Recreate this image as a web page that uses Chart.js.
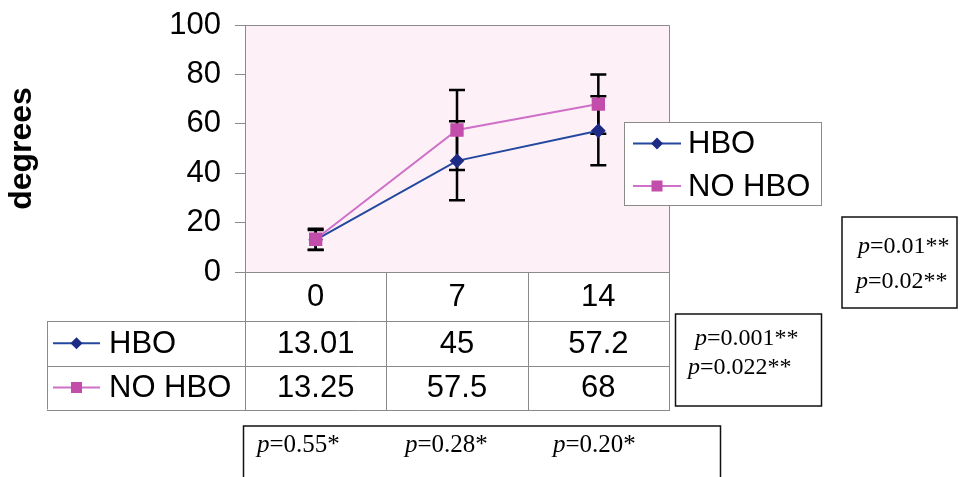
<!DOCTYPE html>
<html><head><meta charset="utf-8">
<script src="https://cdn.jsdelivr.net/npm/chart.js@4"></script>
<style>html,body{margin:0;padding:0;background:#fff}canvas{display:block}</style>
</head><body>
<canvas id="c" width="960" height="477"></canvas>
<script>
const categories = ['0', '7', '14'];
const hboValues = [13.01, 45, 57.2];
const noHboValues = [13.25, 57.5, 68];
const hboErrors = [4, 16, 14];
const noHboErrors = [4.3, 16.2, 12];
const seriesNames = ['HBO', 'NO HBO'];
const yMin = 0, yMax = 100, yStep = 20;
const dayPValues = ['0.55*', '0.28*', '0.20*'];
const rowPValues = ['0.001**', '0.022**'];
const outerPValues = ['0.01**', '0.02**'];

const SANS = '"Liberation Sans", Arial, sans-serif';
const SERIF = '"Liberation Serif", "Times New Roman", serif';
const HBO_LINE = '#2447A0', HBO_MARK = '#1D2B86';
const NO_LINE = '#CF70C9', NO_MARK = '#C24DAA';
const GRID = '#8a8a8a';
const FS = 31;

function drawMarker(ctx, style, x, y, color) {
  ctx.save();
  ctx.fillStyle = color;
  ctx.beginPath();
  if (style === 'diamond') {
    const r = 6;
    ctx.moveTo(x, y - r); ctx.lineTo(x + r, y); ctx.lineTo(x, y + r); ctx.lineTo(x - r, y);
  } else {
    const h = 5.5;
    ctx.rect(x - h, y - h, 2 * h, 2 * h);
  }
  ctx.closePath();
  ctx.fill();
  ctx.restore();
}
function legendEntry(ctx, x1, x2, y, lineColor, markStyle, markColor, label, textX) {
  ctx.save();
  ctx.strokeStyle = lineColor; ctx.lineWidth = 2;
  ctx.beginPath(); ctx.moveTo(x1, y); ctx.lineTo(x2, y); ctx.stroke();
  drawMarker(ctx, markStyle, (x1 + x2) / 2, y, markColor);
  ctx.fillStyle = '#000'; ctx.font = FS + 'px ' + SANS;
  ctx.textAlign = 'left'; ctx.textBaseline = 'middle';
  ctx.fillText(label, textX, y + 1);
  ctx.restore();
}
function drawP(ctx, x, y, text, size) {
  ctx.save();
  ctx.fillStyle = '#000'; ctx.textAlign = 'left'; ctx.textBaseline = 'alphabetic';
  ctx.font = 'italic ' + size + 'px ' + SERIF;
  ctx.fillText('p', x, y);
  const w = ctx.measureText('p').width;
  ctx.font = size + 'px ' + SERIF;
  ctx.fillText('=' + text, x + w, y);
  ctx.restore();
}
function box(ctx, x, y, w, h) {
  ctx.save();
  ctx.strokeStyle = '#111'; ctx.lineWidth = 1.5;
  ctx.strokeRect(x, y, w, h);
  ctx.restore();
}

const decor = {
  id: 'decor',
  beforeDraw(chart) {
    const { ctx, chartArea: a } = chart;
    ctx.save();
    ctx.fillStyle = '#fff'; ctx.fillRect(0, 0, chart.width, chart.height);
    ctx.fillStyle = '#FDF1F7'; ctx.fillRect(a.left, a.top, a.right - a.left, a.bottom - a.top);
    ctx.restore();
  },
  beforeDatasetsDraw(chart) {
    const { ctx } = chart;
    const xs = chart.scales.x, ys = chart.scales.y;
    ctx.save();
    ctx.strokeStyle = '#000'; ctx.lineWidth = 2.5;
    [[noHboValues, noHboErrors], [hboValues, hboErrors]].forEach(([vals, errs]) => {
      vals.forEach((v, i) => {
        const x = xs.getPixelForValue(i);
        const yt = ys.getPixelForValue(v + errs[i]);
        const yb = ys.getPixelForValue(v - errs[i]);
        ctx.beginPath();
        ctx.moveTo(x, yt); ctx.lineTo(x, yb);
        ctx.moveTo(x - 8, yt); ctx.lineTo(x + 8, yt);
        ctx.moveTo(x - 8, yb); ctx.lineTo(x + 8, yb);
        ctx.stroke();
      });
    });
    ctx.restore();
  },
  afterDraw(chart) {
    const { ctx, chartArea: a } = chart;
    const xs = chart.scales.x;
    ctx.save();
    ctx.strokeStyle = GRID; ctx.lineWidth = 1;
    ctx.beginPath();
    ctx.moveTo(a.left, a.top + 0.5); ctx.lineTo(a.right + 0.5, a.top + 0.5); ctx.lineTo(a.right + 0.5, a.bottom);
    ctx.stroke();
    ctx.restore();

    // legend box
    ctx.save();
    ctx.fillStyle = '#fff'; ctx.fillRect(624, 122, 198, 84);
    ctx.strokeStyle = GRID; ctx.lineWidth = 1; ctx.strokeRect(624.5, 122.5, 197, 83);
    ctx.restore();
    legendEntry(ctx, 633, 681, 143.5, HBO_LINE, 'diamond', HBO_MARK, seriesNames[0], 688);
    legendEntry(ctx, 633, 681, 186, NO_LINE, 'square', NO_MARK, seriesNames[1], 688);

    // data table
    const n = categories.length;
    const bounds = [a.left];
    for (let i = 0; i < n - 1; i++) bounds.push((xs.getPixelForValue(i) + xs.getPixelForValue(i + 1)) / 2);
    bounds.push(a.right);
    const tLeft = 47;
    const yH = a.bottom, y1 = a.bottom + 49, y2 = y1 + 44.5, y3 = y2 + 44;
    ctx.save();
    ctx.strokeStyle = GRID; ctx.lineWidth = 1;
    ctx.beginPath();
    [y1, y2, y3].forEach(y => { ctx.moveTo(tLeft, Math.round(y) + 0.5); ctx.lineTo(a.right + 1, Math.round(y) + 0.5); });
    ctx.moveTo(tLeft + 0.5, y1); ctx.lineTo(tLeft + 0.5, y3);
    bounds.forEach(b => { ctx.moveTo(Math.round(b) + 0.5, yH); ctx.lineTo(Math.round(b) + 0.5, y3 + 0.5); });
    ctx.stroke();
    ctx.fillStyle = '#000'; ctx.font = FS + 'px ' + SANS;
    ctx.textAlign = 'center'; ctx.textBaseline = 'middle';
    categories.forEach((c, i) => {
      const cx = xs.getPixelForValue(i);
      ctx.fillText(c, cx, (yH + y1) / 2 + 1);
      ctx.fillText(String(hboValues[i]), cx, (y1 + y2) / 2 + 1);
      ctx.fillText(String(noHboValues[i]), cx, (y2 + y3) / 2 + 1);
    });
    ctx.restore();
    legendEntry(ctx, 53, 100, (y1 + y2) / 2, HBO_LINE, 'diamond', HBO_MARK, seriesNames[0], 109);
    legendEntry(ctx, 53, 100, (y2 + y3) / 2, NO_LINE, 'square', NO_MARK, seriesNames[1], 109);

    // p-value boxes
    box(ctx, 842, 217, 115, 91);
    drawP(ctx, 858, 253, outerPValues[0], 24);
    drawP(ctx, 856, 288, outerPValues[1], 24);

    box(ctx, 675.5, 314, 146, 92);
    drawP(ctx, 695, 345, rowPValues[0], 24);
    drawP(ctx, 688, 374, rowPValues[1], 24);

    box(ctx, 243.5, 426, 477, 60);
    const px = [257, 405, 553];
    dayPValues.forEach((p, i) => drawP(ctx, px[i], 452, p, 25));
  }
};

new Chart(document.getElementById('c'), {
  type: 'line',
  data: {
    labels: categories,
    datasets: [
      { label: seriesNames[0], data: hboValues, borderColor: HBO_LINE, backgroundColor: HBO_MARK, order: 1,
        pointBackgroundColor: HBO_MARK, pointBorderColor: HBO_MARK, pointStyle: 'rectRot', pointRadius: 6,
        borderWidth: 2, tension: 0 },
      { label: seriesNames[1], data: noHboValues, borderColor: NO_LINE, backgroundColor: NO_MARK, order: 0,
        pointBackgroundColor: NO_MARK, pointBorderColor: NO_MARK, pointStyle: 'rect', pointRadius: 8,
        borderWidth: 2, tension: 0 }
    ]
  },
  options: {
    responsive: false, animation: false, devicePixelRatio: 1,
    layout: { padding: { left: 0, top: 25, right: 291, bottom: 0 } },
    plugins: { legend: { display: false }, tooltip: { enabled: false } },
    scales: {
      x: {
        offset: true,
        grid: { display: false },
        border: { display: true, color: GRID },
        ticks: { display: false },
        afterFit(s) { s.height = 205; s.paddingLeft = 0; s.paddingRight = 0; }
      },
      y: {
        min: yMin, max: yMax,
        ticks: { stepSize: yStep, color: '#000', font: { family: SANS, size: FS }, padding: 14 },
        grid: { drawOnChartArea: false, tickLength: 10, color: GRID },
        border: { color: GRID },
        title: { display: true, text: 'degrees', color: '#000', font: { family: SANS, size: 32, weight: 'bold' }, padding: { top: 3, bottom: 4 } },
        afterFit(s) { s.width = 245; s.paddingTop = 0; s.paddingBottom = 0; }
      }
    }
  },
  plugins: [decor]
});
</script>
</body></html>
